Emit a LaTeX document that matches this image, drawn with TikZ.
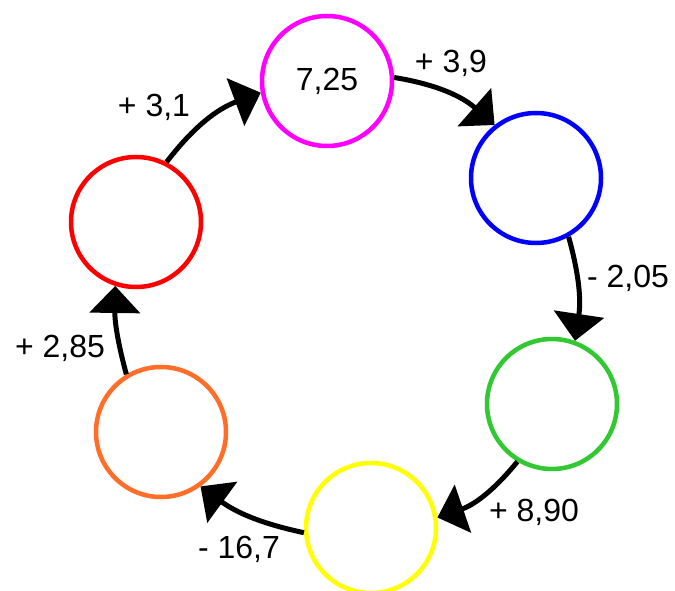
\documentclass[tikz,border=0pt]{standalone}
\usepackage{fontspec}
\setmainfont{Liberation Sans}
\usetikzlibrary{arrows.meta}
\definecolor{cmag}{RGB}{255,0,255}
\definecolor{cblue}{RGB}{0,0,255}
\definecolor{cgreen}{RGB}{50,200,50}
\definecolor{cyellow}{RGB}{255,255,0}
\definecolor{corange}{RGB}{255,110,40}
\definecolor{cred}{RGB}{255,0,0}
\begin{document}
\begin{tikzpicture}[x=1pt,y=1pt,
  ring/.style={circle, draw, line width=4.5pt, minimum size=130pt, inner sep=0pt, font=\fontsize{32}{38}\selectfont},
  arr/.style={line width=5pt, -{Triangle[length=27pt,width=50pt]}},
  lbl/.style={font=\fontsize{32}{38}\selectfont, inner sep=0pt}]
\useasboundingbox (0,0) rectangle (675,590);
\clip (0,0) rectangle (675,590);
\fill[white] (0,0) rectangle (675,590);
\node[ring, draw=cmag] (M) at (327,509) {7,25};
\node[ring, draw=cblue] (B) at (536,412) {};
\node[ring, draw=cgreen] (G) at (552,186) {};
\node[ring, draw=cyellow] (Y) at (371,62) {};
\node[ring, draw=corange] (O) at (161,158) {};
\node[ring, draw=cred] (R) at (136,368) {};
\draw[arr] (M.3) to[bend left=16] (B.128);
\draw[arr] (B.-61) to[bend left=12] (G.70);
\draw[arr] (G.-121) to[bend left=16] (Y.9);
\draw[arr] (Y.184) to[bend left=12] (O.-54);
\draw[arr] (O.121) to[bend left=8] (R.-108);
\draw[arr] (R.63) to[bend left=16] (M.190);
\node[lbl] (l1) at (451,527) {+ 3,9};
\node[lbl] (l2) at (628,312) {- 2,05};
\node[lbl] (l3) at (534,78) {+ 8,90};
\node[lbl] (l4) at (239,41) {- 16,7};
\node[lbl] (l5) at (60,242) {+ 2,85};
\node[lbl] (l6) at (154,483) {+ 3,1};
\end{tikzpicture}
\end{document}
